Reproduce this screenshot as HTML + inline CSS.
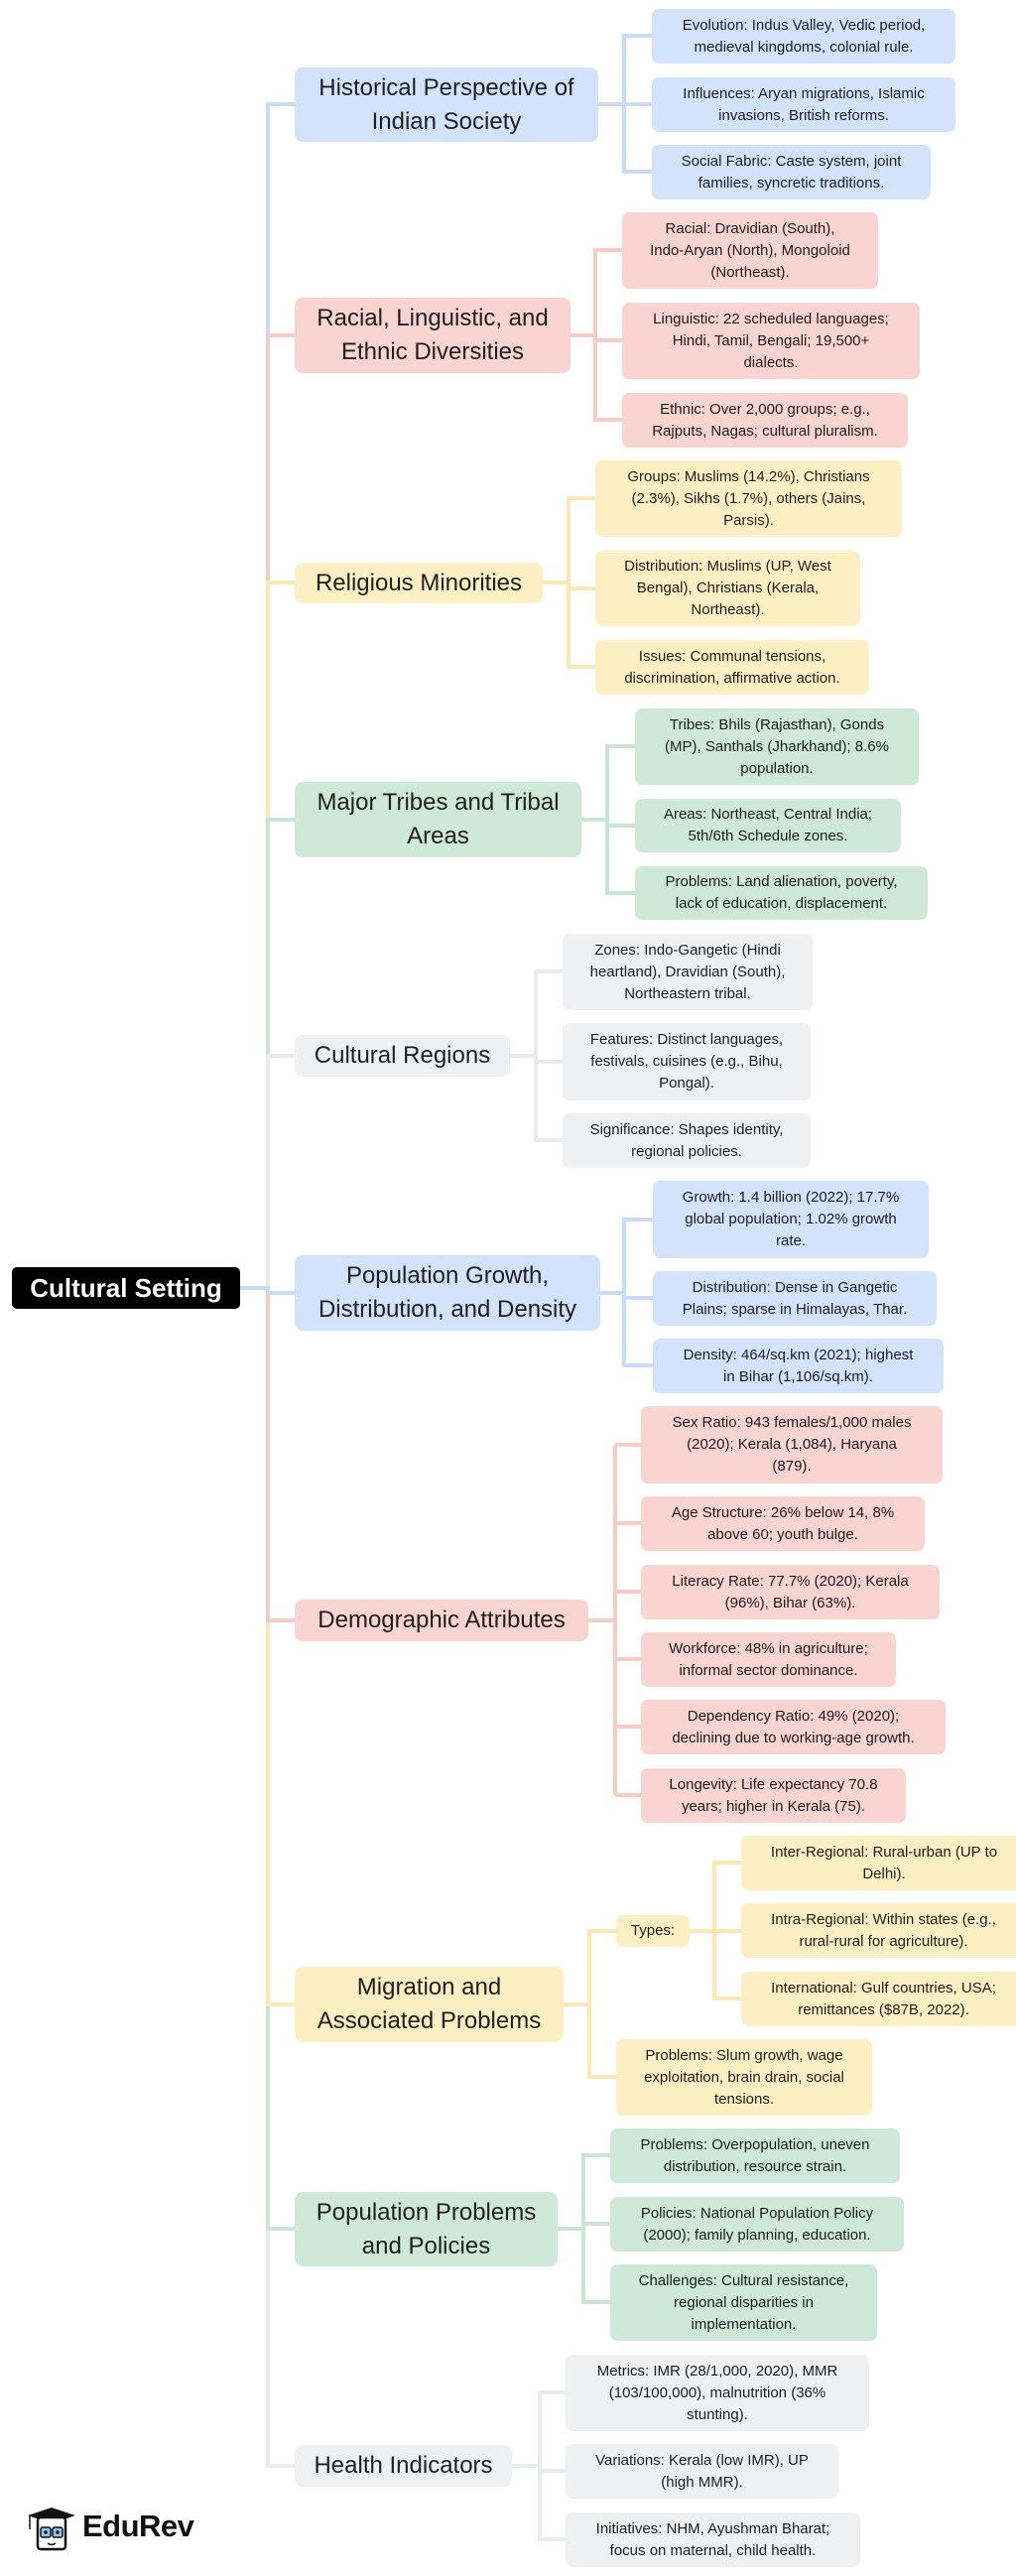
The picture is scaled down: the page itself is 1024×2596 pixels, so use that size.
<!DOCTYPE html>
<html><head><meta charset="utf-8">
<style>
html,body{margin:0;padding:0;background:#fff;}
body{width:1024px;height:2596px;position:relative;overflow:hidden;font-family:"Liberation Sans",Arial,sans-serif;}
.n{position:absolute;box-sizing:border-box;border-radius:8px;display:flex;align-items:center;justify-content:center;text-align:center;color:#1e1e1e;}
.m{font-size:24px;line-height:34px;}
.l{font-size:15px;line-height:22px;border-radius:7px;}
.b{background:#d3e3fd;} .r{background:#f9d4d0;} .y{background:#fdefc4;} .g{background:#cfe9d9;} .k{background:#eff0f1;}
svg{position:absolute;left:0;top:0;}
</style></head><body>
<svg width="1024" height="2596" fill="none" stroke-width="4">
<path d="M242,1298H270V2485H297" stroke="#eaebec"/>
<path d="M242,1298H270V2246H297" stroke="#c9e5d3"/>
<path d="M242,1298H270V2020H297" stroke="#fbe8b5"/>
<path d="M242,1298H270V1633H297" stroke="#f7ccc7"/>
<path d="M242,1298H270V105H297" stroke="#c9dbfb"/>
<path d="M242,1298H270V338H297" stroke="#f7ccc7"/>
<path d="M242,1298H270V587H297" stroke="#fbe8b5"/>
<path d="M242,1298H270V826H297" stroke="#c9e5d3"/>
<path d="M242,1298H270V1064H297" stroke="#eaebec"/>
<path d="M242,1298H270V1303H297" stroke="#c9dbfb"/>
<g stroke="#c9dbfb"><path d="M603,105H629V36H657M629,105H657M629,105V173H657"/></g>
<g stroke="#f7ccc7"><path d="M575,338H600V252H627M600,338V343H627M600,338V423H627"/></g>
<g stroke="#fbe8b5"><path d="M547,587H573V502H600M573,587V593H600M573,587V672H600"/></g>
<g stroke="#c9e5d3"><path d="M586,826H612V752H640M612,826V832H640M612,826V900H640"/></g>
<g stroke="#eaebec"><path d="M514,1064H540V979H567M540,1064V1070H567M540,1064V1149H567"/></g>
<g stroke="#c9dbfb"><path d="M605,1303H629V1229H658M629,1303V1308H658M629,1303V1376H658"/></g>
<g stroke="#f7ccc7"><path d="M593,1633H620M620,1456V1809M620,1456H646M620,1535H646M620,1604H646M620,1672H646M620,1740H646M620,1809H646"/></g>
<g stroke="#fbe8b5"><path d="M568,2020H594V1946H621M594,2020V2093H621M695,1946H720V1877H747M720,1946H747M720,1946V2014H747"/></g>
<g stroke="#c9e5d3"><path d="M562,2246H588V2172H615M588,2246V2241H615M588,2246V2320H615"/></g>
<g stroke="#eaebec"><path d="M516,2485H544V2411H570M544,2485V2490H570M544,2485V2559H570"/></g>
</svg>

<div class="n" style="left:12px;top:1277px;width:230px;height:42px;background:#000;color:#fff;font-weight:bold;font-size:26px;border-radius:5px;">Cultural Setting</div>

<div class="n m b" style="left:297px;top:68px;width:306px;height:75px;">Historical Perspective of<br>Indian Society</div>
<div class="n m r" style="left:297px;top:300px;width:278px;height:76px;">Racial, Linguistic, and<br>Ethnic Diversities</div>
<div class="n m y" style="left:297px;top:567px;width:250px;height:41px;">Religious Minorities</div>
<div class="n m g" style="left:297px;top:788px;width:289px;height:76px;">Major Tribes and Tribal<br>Areas</div>
<div class="n m k" style="left:297px;top:1043px;width:217px;height:42px;">Cultural Regions</div>
<div class="n m b" style="left:297px;top:1265px;width:308px;height:76px;">Population Growth,<br>Distribution, and Density</div>
<div class="n m r" style="left:297px;top:1612px;width:296px;height:42px;">Demographic Attributes</div>
<div class="n m y" style="left:297px;top:1982px;width:271px;height:76px;">Migration and<br>Associated Problems</div>
<div class="n m g" style="left:297px;top:2209px;width:265px;height:75px;">Population Problems<br>and Policies</div>
<div class="n m k" style="left:297px;top:2464px;width:219px;height:42px;">Health Indicators</div>

<div class="n l b" style="left:657px;top:9px;width:306px;height:55px;">Evolution: Indus Valley, Vedic period,<br>medieval kingdoms, colonial rule.</div>
<div class="n l b" style="left:657px;top:78px;width:306px;height:55px;">Influences: Aryan migrations, Islamic<br>invasions, British reforms.</div>
<div class="n l b" style="left:657px;top:146px;width:281px;height:55px;">Social Fabric: Caste system, joint<br>families, syncretic traditions.</div>

<div class="n l r" style="left:627px;top:214px;width:258px;height:77px;">Racial: Dravidian (South),<br>Indo-Aryan (North), Mongoloid<br>(Northeast).</div>
<div class="n l r" style="left:627px;top:305px;width:300px;height:77px;">Linguistic: 22 scheduled languages;<br>Hindi, Tamil, Bengali; 19,500+<br>dialects.</div>
<div class="n l r" style="left:627px;top:396px;width:288px;height:55px;">Ethnic: Over 2,000 groups; e.g.,<br>Rajputs, Nagas; cultural pluralism.</div>

<div class="n l y" style="left:600px;top:464px;width:309px;height:77px;">Groups: Muslims (14.2%), Christians<br>(2.3%), Sikhs (1.7%), others (Jains,<br>Parsis).</div>
<div class="n l y" style="left:600px;top:555px;width:267px;height:76px;">Distribution: Muslims (UP, West<br>Bengal), Christians (Kerala,<br>Northeast).</div>
<div class="n l y" style="left:600px;top:645px;width:276px;height:55px;">Issues: Communal tensions,<br>discrimination, affirmative action.</div>

<div class="n l g" style="left:640px;top:714px;width:286px;height:77px;">Tribes: Bhils (Rajasthan), Gonds<br>(MP), Santhals (Jharkhand); 8.6%<br>population.</div>
<div class="n l g" style="left:640px;top:805px;width:268px;height:54px;">Areas: Northeast, Central India;<br>5th/6th Schedule zones.</div>
<div class="n l g" style="left:640px;top:873px;width:295px;height:54px;">Problems: Land alienation, poverty,<br>lack of education, displacement.</div>

<div class="n l k" style="left:567px;top:941px;width:252px;height:77px;">Zones: Indo-Gangetic (Hindi<br>heartland), Dravidian (South),<br>Northeastern tribal.</div>
<div class="n l k" style="left:567px;top:1031px;width:250px;height:78px;">Features: Distinct languages,<br>festivals, cuisines (e.g., Bihu,<br>Pongal).</div>
<div class="n l k" style="left:567px;top:1122px;width:250px;height:55px;">Significance: Shapes identity,<br>regional policies.</div>

<div class="n l b" style="left:658px;top:1190px;width:278px;height:78px;">Growth: 1.4 billion (2022); 17.7%<br>global population; 1.02% growth<br>rate.</div>
<div class="n l b" style="left:658px;top:1281px;width:286px;height:55px;">Distribution: Dense in Gangetic<br>Plains; sparse in Himalayas, Thar.</div>
<div class="n l b" style="left:658px;top:1349px;width:293px;height:55px;">Density: 464/sq.km (2021); highest<br>in Bihar (1,106/sq.km).</div>

<div class="n l r" style="left:646px;top:1417px;width:304px;height:78px;">Sex Ratio: 943 females/1,000 males<br>(2020); Kerala (1,084), Haryana<br>(879).</div>
<div class="n l r" style="left:646px;top:1508px;width:286px;height:55px;">Age Structure: 26% below 14, 8%<br>above 60; youth bulge.</div>
<div class="n l r" style="left:646px;top:1577px;width:301px;height:55px;">Literacy Rate: 77.7% (2020); Kerala<br>(96%), Bihar (63%).</div>
<div class="n l r" style="left:646px;top:1645px;width:257px;height:55px;">Workforce: 48% in agriculture;<br>informal sector dominance.</div>
<div class="n l r" style="left:646px;top:1713px;width:307px;height:55px;">Dependency Ratio: 49% (2020);<br>declining due to working-age growth.</div>
<div class="n l r" style="left:646px;top:1782px;width:267px;height:55px;">Longevity: Life expectancy 70.8<br>years; higher in Kerala (75).</div>

<div class="n l y" style="left:621px;top:1930px;width:74px;height:32px;">Types:</div>
<div class="n l y" style="left:747px;top:1850px;width:288px;height:55px;">Inter-Regional: Rural-urban (UP to<br>Delhi).</div>
<div class="n l y" style="left:747px;top:1918px;width:287px;height:55px;">Intra-Regional: Within states (e.g.,<br>rural-rural for agriculture).</div>
<div class="n l y" style="left:747px;top:1987px;width:287px;height:55px;">International: Gulf countries, USA;<br>remittances ($87B, 2022).</div>
<div class="n l y" style="left:621px;top:2055px;width:258px;height:77px;">Problems: Slum growth, wage<br>exploitation, brain drain, social<br>tensions.</div>

<div class="n l g" style="left:615px;top:2145px;width:292px;height:55px;">Problems: Overpopulation, uneven<br>distribution, resource strain.</div>
<div class="n l g" style="left:615px;top:2214px;width:296px;height:55px;">Policies: National Population Policy<br>(2000); family planning, education.</div>
<div class="n l g" style="left:615px;top:2282px;width:269px;height:77px;">Challenges: Cultural resistance,<br>regional disparities in<br>implementation.</div>

<div class="n l k" style="left:570px;top:2373px;width:306px;height:77px;">Metrics: IMR (28/1,000, 2020), MMR<br>(103/100,000), malnutrition (36%<br>stunting).</div>
<div class="n l k" style="left:570px;top:2463px;width:275px;height:55px;">Variations: Kerala (low IMR), UP<br>(high MMR).</div>
<div class="n l k" style="left:570px;top:2532px;width:297px;height:55px;">Initiatives: NHM, Ayushman Bharat;<br>focus on maternal, child health.</div>

<svg width="60" height="50" style="left:24px;top:2525px;">
<polygon points="4,10 28,2 52,10 28,18" fill="#111"/>
<rect x="14" y="12" width="28" height="32" rx="3" fill="#fff" stroke="#111" stroke-width="2.5"/>
<rect x="17" y="22" width="10" height="10" rx="2" fill="#8fc3ef" stroke="#111" stroke-width="1.5"/>
<rect x="29" y="22" width="10" height="10" rx="2" fill="#8fc3ef" stroke="#111" stroke-width="1.5"/>
<circle cx="22" cy="27" r="1.8" fill="#111"/><circle cx="34" cy="27" r="1.8" fill="#111"/>
<path d="M24,38 Q28,41 32,38" stroke="#111" stroke-width="1.5" fill="none"/>
<line x1="6" y1="10" x2="6" y2="24" stroke="#111" stroke-width="1.5"/>
</svg>
<div style="position:absolute;left:83px;top:2528px;font-size:31px;font-weight:bold;color:#111;letter-spacing:-0.5px;">EduRev</div>
</body></html>
